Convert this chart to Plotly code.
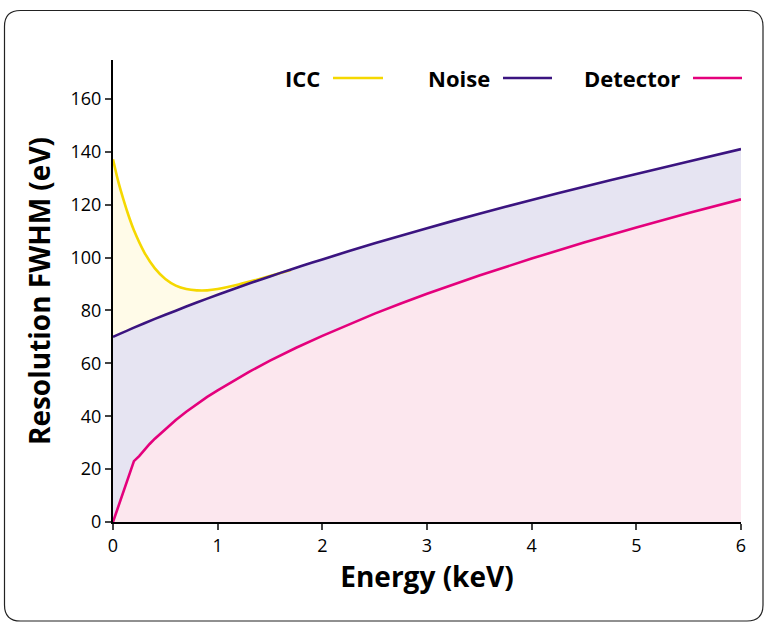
import plotly.graph_objects as go

# Resolution (FWHM, eV) versus X-ray energy (keV)
energy_icc = [0.0, 0.05, 0.1, 0.15, 0.2, 0.3, 0.4, 0.5, 0.6, 0.7, 0.8, 0.9, 1.0, 1.2, 1.4, 1.55, 1.7]
fwhm_icc = [137.2, 128.8, 121.9, 115.7, 110.3, 101.9, 95.9, 91.9, 89.4, 88.1, 87.6, 87.6, 88.1, 89.8, 91.9, 93.6, 95.3]

energy_noise = [0.0, 0.2, 0.4, 0.6, 0.8, 1.0, 1.2, 1.4, 1.6, 1.8, 2.0, 2.5, 3.0, 3.5, 4.0, 4.5, 5.0, 5.5, 6.0]
fwhm_noise = [70.0, 73.5, 76.8, 79.9, 83.0, 85.9, 88.8, 91.5, 94.2, 96.8, 99.3, 105.4, 111.1, 116.6, 121.8, 126.8, 131.6, 136.3, 141.0]

energy_det = [0.0, 0.2, 0.25, 0.3, 0.35, 0.4, 0.5, 0.6, 0.7, 0.8, 0.9, 1.0, 1.15, 1.3, 1.5, 1.75, 2.0, 2.25, 2.5, 2.75,
              3.0, 3.5, 4.0, 4.5, 5.0, 5.5, 6.0]
fwhm_det = [0.0, 23.0, 24.9, 27.3, 29.5, 31.5, 35.2, 38.6, 41.7, 44.6, 47.3, 49.8, 53.4, 56.8, 61.0, 65.9, 70.4, 74.7,
            78.8, 82.6, 86.3, 93.2, 99.6, 105.7, 111.4, 116.8, 122.0]

series_names = ["ICC", "Noise", "Detector"]
line_colors = {"ICC": "#f5d800", "Noise": "#3b1480", "Detector": "#e4007c"}
fill_colors = {"ICC": "#fffbe8", "Noise": "#e6e4f2", "Detector": "#fce7ee"}

x_ticks = [0, 1, 2, 3, 4, 5, 6]
y_ticks = [0, 20, 40, 60, 80, 100, 120, 140, 160]

W, H = 765, 623
ML, MR, MT, MB = 113, 24, 60, 101
PW, PH = W - ML - MR, H - MT - MB


def px(x):
    return (x - ML) / PW


def py(y):
    return (H - MB - y) / PH


data = {
    "ICC": (energy_icc, fwhm_icc),
    "Noise": (energy_noise, fwhm_noise),
    "Detector": (energy_det, fwhm_det),
}

fig = go.Figure()

# stacked opaque fills, each down to zero, upper curve first
for name in series_names:
    xs, ys = data[name]
    fig.add_trace(go.Scatter(
        x=xs, y=ys, mode="lines", line=dict(width=0, color=fill_colors[name], shape="spline", smoothing=0.6),
        fill="tozeroy", fillcolor=fill_colors[name], showlegend=False, hoverinfo="skip",
    ))

# curves on top
for name in ["ICC", "Noise", "Detector"]:
    xs, ys = data[name]
    fig.add_trace(go.Scatter(
        x=xs, y=ys, mode="lines", name=name,
        line=dict(width=2.6, color=line_colors[name], shape="spline" if name != "Detector" else "linear",
                  smoothing=0.6),
        showlegend=False,
    ))

font_family = "Open Sans"

fig.update_layout(
    width=W, height=H,
    margin=dict(l=ML, r=MR, t=MT, b=MB),
    paper_bgcolor="white", plot_bgcolor="white",
    font=dict(family=font_family, color="black", size=18),
    showlegend=False,
    xaxis=dict(
        range=[0, 6], tickvals=x_ticks, ticks="outside", ticklen=6, tickwidth=1.5,
        showline=True, linecolor="black", linewidth=2, showgrid=False, zeroline=False,
        tickfont=dict(size=18, family=font_family),
        title=dict(text="<b>Energy (keV)</b>", font=dict(size=28, family=font_family), standoff=10),
    ),
    yaxis=dict(
        range=[0, 174.7], tickvals=y_ticks, ticks="outside", ticklen=6, tickwidth=1.5,
        showline=True, linecolor="black", linewidth=2, showgrid=False, zeroline=False,
        tickfont=dict(size=18, family=font_family),
        title=dict(text="<b>Resolution FWHM (eV)</b>", font=dict(size=28, family=font_family), standoff=12),
    ),
)

# legend: label followed by a short line sample
legend_pos = {"ICC": (322, 333, 383), "Noise": (492, 503, 552), "Detector": (682, 693, 742)}
legend_y = 78
for name in series_names:
    tx, x0, x1 = legend_pos[name]
    fig.add_annotation(
        x=px(tx), y=py(legend_y), xref="paper", yref="paper", text=f"<b>{name}</b>",
        showarrow=False, xanchor="right", yanchor="middle",
        font=dict(size=22, family=font_family, color="black"),
    )
    fig.add_shape(
        type="line", xref="paper", yref="paper",
        x0=px(x0), x1=px(x1), y0=py(legend_y), y1=py(legend_y),
        line=dict(color=line_colors[name], width=2.6),
    )

# rounded frame around the figure
L, T, R, B, r = 4.5, 10.5, 763, 621, 16
path = (
    f"M {px(L)},{py(T + r)} Q {px(L)},{py(T)} {px(L + r)},{py(T)} "
    f"L {px(R - r)},{py(T)} Q {px(R)},{py(T)} {px(R)},{py(T + r)} "
    f"L {px(R)},{py(B - r)} Q {px(R)},{py(B)} {px(R - r)},{py(B)} "
    f"L {px(L + r)},{py(B)} Q {px(L)},{py(B)} {px(L)},{py(B - r)} Z"
)
fig.add_shape(type="path", xref="paper", yref="paper", path=path,
              line=dict(color="#222222", width=1.2), layer="below")

fig.write_html("out.html")
